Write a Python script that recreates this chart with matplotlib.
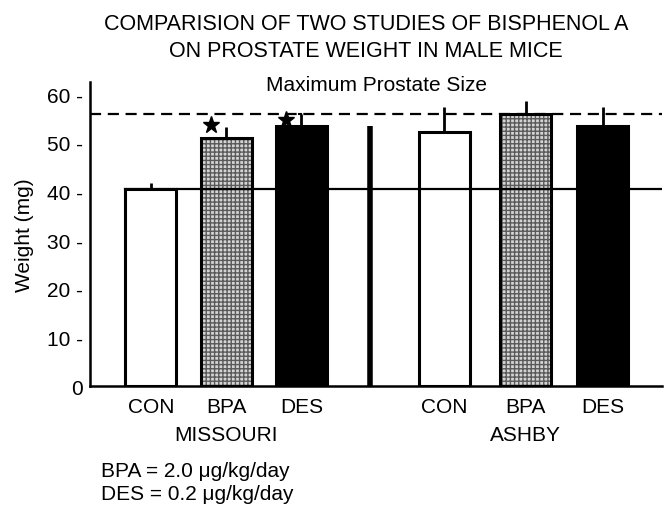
import matplotlib.pyplot as plt
import numpy as np

plt.rcParams['font.family'] = ['Liberation Sans', 'DejaVu Sans']

# data
groups = ['MISSOURI', 'ASHBY']
treatments = ['CON', 'BPA', 'DES', 'CON', 'BPA', 'DES']
positions = [0, 1, 2, 3.9, 4.98, 6]
weights = [40.5, 51.0, 53.4, 52.3, 56.0, 53.4]
err_tops = [41.8, 53.3, 56.0, 57.3, 58.6, 57.4]
control_level = 40.5
max_size = 55.9
separator_x = 2.91
separator_h = 53.4
stars = [1, 2]

fills = ['white', 'hatch', 'black', 'white', 'hatch', 'black']

fig = plt.figure(figsize=(6.66, 5.06), dpi=100)
ax = fig.add_axes([0.135, 0.235, 0.859, 0.601])

w = 0.68
for x, h, f in zip(positions, weights, fills):
    if f == 'hatch':
        ax.bar(x, h, width=w, color='#d4d4d4', edgecolor='#5a5a5a', hatch='++++',
               linewidth=0, zorder=2)
        ax.bar(x, h, width=w, fill=False, edgecolor='black', linewidth=2.2, zorder=3)
    else:
        ax.bar(x, h, width=w, color=f, edgecolor='black', linewidth=2.2, zorder=2)

# error bars (upper only)
ax.vlines(positions, weights, err_tops, color='black', linewidth=2, zorder=3)
# hook on Missouri DES error bar
ax.plot([positions[2] - 0.03, positions[2]], [err_tops[2], err_tops[2]],
        color='black', linewidth=1.5, zorder=3)

# control level line and max size line
ax.plot([positions[0] - w / 2, 6.79], [control_level, control_level],
        color='black', linewidth=1.6, zorder=4)
ax.plot([-0.81, 6.79], [max_size, max_size], color='black', linewidth=1.6,
        linestyle=(0, (5, 3)), zorder=1)

# separator
ax.vlines(separator_x, 0, separator_h, color='black', linewidth=4, zorder=3)

# significance stars
for i in stars:
    ax.plot(positions[i] - 0.2, weights[i] + 2.6 if i == 1 else err_tops[i] - 1.3,
            marker='*', color='black', markersize=12.5, zorder=5)

ax.set_xlim(-0.81, 6.79)
ax.set_ylim(0, 62.5)
ax.spines['top'].set_visible(False)
ax.spines['right'].set_visible(False)
ax.spines['left'].set_linewidth(1.8)
ax.spines['bottom'].set_linewidth(1.8)

fs = 15
yt = [0, 10, 20, 30, 40, 50, 60]
ax.set_yticks(yt)
ax.set_yticklabels(['0'] + [f'{v} -' for v in yt[1:]], fontsize=fs)
ax.tick_params(axis='y', length=0, pad=5)
ax.set_xticks(positions)
ax.set_xticklabels(treatments, fontsize=fs)
ax.tick_params(axis='x', length=0, pad=8)
ax.set_ylabel('Weight (mg)', fontsize=fs, labelpad=9)

ax.text(1, -9.9, groups[0], ha='center', va='center', fontsize=fs)
ax.text(4.98, -9.9, groups[1], ha='center', va='center', fontsize=fs)

fig.text(0.55, 0.952, 'COMPARISION OF TWO STUDIES OF BISPHENOL A', ha='center',
         va='center', fontsize=15.5)
fig.text(0.55, 0.899, 'ON PROSTATE WEIGHT IN MALE MICE', ha='center',
         va='center', fontsize=15.5)
fig.text(0.566, 0.832, 'Maximum Prostate Size', ha='center', va='center', fontsize=fs)

fig.text(0.151, 0.069, 'BPA = 2.0 \u03bcg/kg/day', ha='left', va='center', fontsize=fs)
fig.text(0.151, 0.022, 'DES = 0.2 \u03bcg/kg/day', ha='left', va='center', fontsize=fs)

fig.savefig('out.png', dpi=100)
